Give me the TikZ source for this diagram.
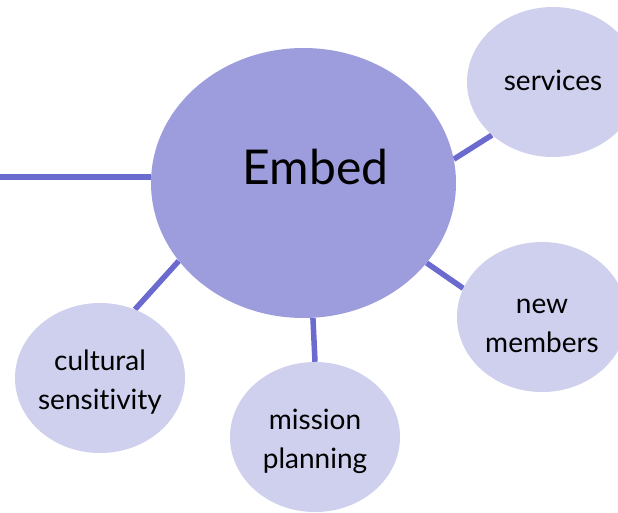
\documentclass[tikz,border=0pt]{standalone}
\usepackage{fontspec}
\setmainfont{Lato}[Ligatures=CommonOff]
\usetikzlibrary{shapes.geometric,backgrounds}
\definecolor{bigfill}{RGB}{157,156,221}
\definecolor{smallfill}{RGB}{207,207,238}
\definecolor{linkcol}{RGB}{107,106,206}
\tikzset{
  hub/.style={ellipse, fill=bigfill, inner sep=0pt, minimum width=305pt, minimum height=270pt},
  leaf/.style={ellipse, fill=smallfill, inner sep=0pt, minimum width=170pt, minimum height=150pt},
  leaftext/.style={align=center, inner sep=0pt, font=\fontsize{28}{39}\selectfont},
  link/.style={draw=linkcol, line width=5.5pt},
  bigtext/.style={font=\fontsize{48}{56}\selectfont, inner sep=0pt}
}
\begin{document}
\begin{tikzpicture}[x=1pt,y=-1pt]
\useasboundingbox (0,0) rectangle (618,512);
\node[hub] (embed) at (303.5,183) {};
\node[bigtext] (embedtxt) at (315.5,167) {Embed};
\node[leaf, minimum width=172pt] (services) at (553,82) {};
\node[leaf] (newm) at (542,317) {};
\node[leaf] (mission) at (315,437) {};
\node[leaf] (cultural) at (100,378) {};
\node[leaftext] (servicestxt) at ([yshift=2pt]services.center) {services};
\node[leaftext] (newmtxt) at ([yshift=-9pt]newm.center) {new\\members};
\node[leaftext] (missiontxt) at ([yshift=-4pt]mission.center) {mission\\planning};
\node[leaftext] (culturaltxt) at ([yshift=-4pt]cultural.center) {cultural\\sensitivity};
\coordinate (lft) at (0,177);
\begin{scope}[on background layer]
\draw[link] (embed.9.9) -- (services.221.9);
\draw[link] (embed.-33.9) -- (newm.160.2);
\draw[link] (embed.-86.8) -- (mission.90);
\draw[link] (embed.212.7) -- (cultural.63.4);
\draw[link] (lft) -- (lft -| embed.west);
\end{scope}
\end{tikzpicture}
\end{document}
